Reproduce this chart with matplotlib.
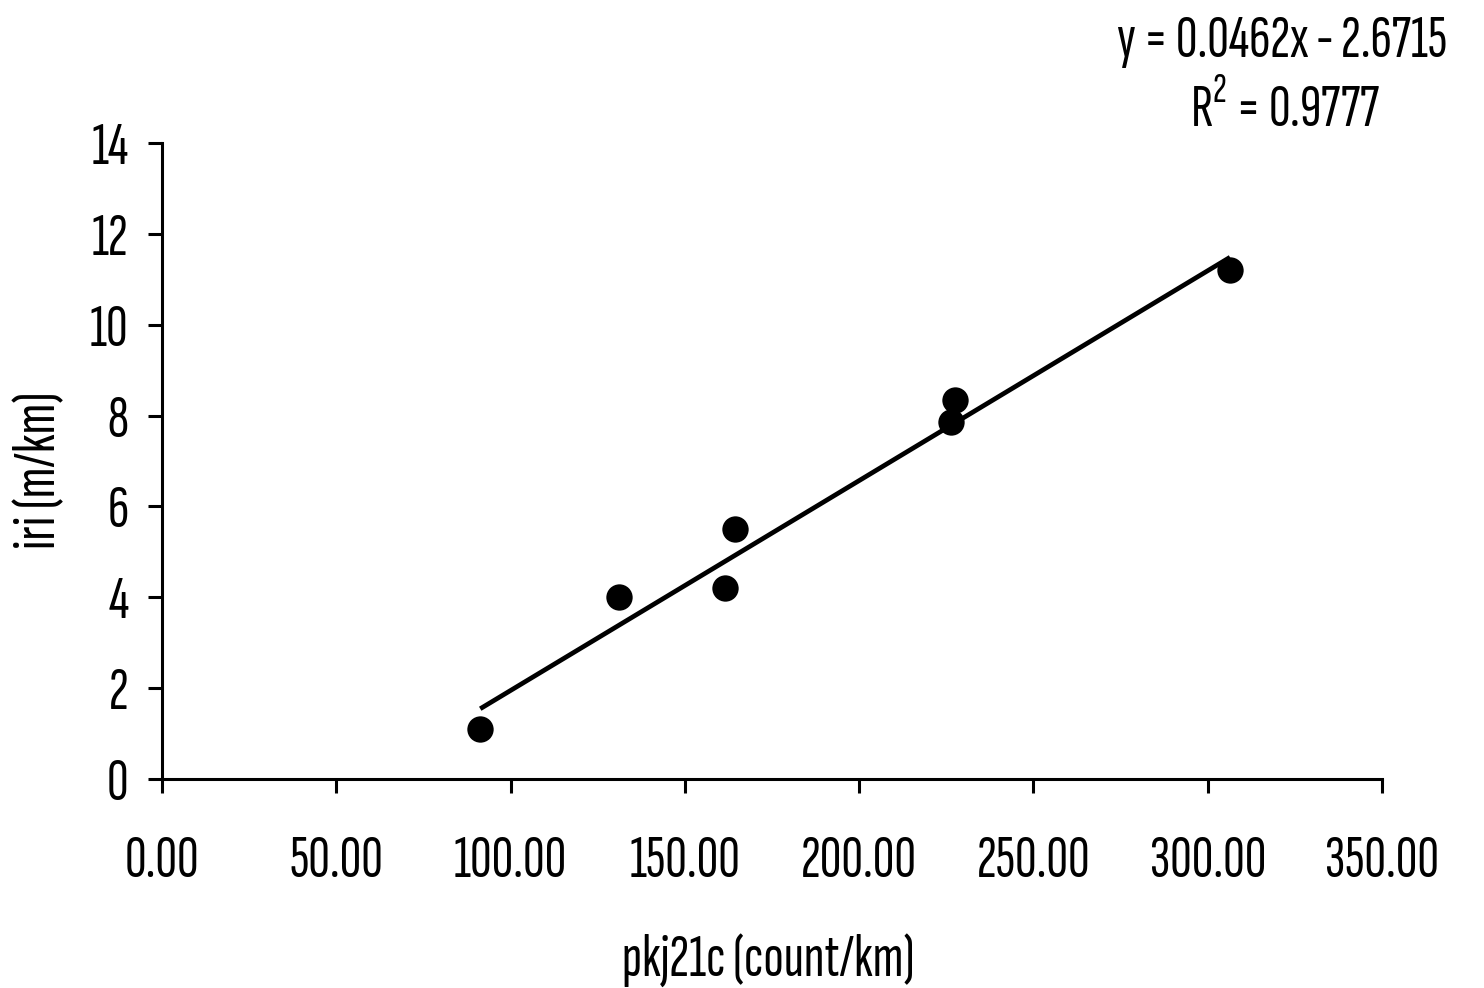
import matplotlib
matplotlib.use("Agg")
from matplotlib import pyplot as plt
import numpy as np

# data
pkj21c = [91.3, 131.0, 161.5, 164.5, 226.3, 227.5, 306.4]
iri = [1.1, 4.0, 4.2, 5.5, 7.85, 8.35, 11.2]
slope = 0.0462
intercept = -2.6715
r2 = 0.9777
x_ticks = [0, 50, 100, 150, 200, 250, 300, 350]
y_ticks = [0, 2, 4, 6, 8, 10, 12, 14]

FONT = 'Sofia Sans Extra Condensed'
plt.rcParams['font.family'] = [FONT, 'DejaVu Sans']
plt.rcParams['mathtext.fontset'] = 'custom'
plt.rcParams['mathtext.rm'] = FONT
FS = 43

W, H = 1484, 988
fig = plt.figure(figsize=(W / 100, H / 100), dpi=100)
ax = fig.add_axes([162 / W, 1 - 779 / H, 1220 / W, 636 / H])

ax.scatter(pkj21c, iri, s=360, color='black', zorder=3, linewidths=0)
xs = np.array([min(pkj21c), max(pkj21c)])
ax.plot(xs, slope * xs + intercept, color='black', lw=3.4, solid_capstyle='butt')

ax.set_xlim(0, 350)
ax.set_ylim(0, 14)
ax.set_xticks(x_ticks)
ax.set_xticklabels([f"{v:.2f}" for v in x_ticks])
ax.set_yticks(y_ticks)
for s in ['top', 'right']:
    ax.spines[s].set_visible(False)
for s in ['left', 'bottom']:
    ax.spines[s].set_linewidth(2.2)
ax.tick_params(direction='out', length=10, width=2.2, labelsize=FS, colors='black')
ax.tick_params(axis='x', pad=30)
ax.tick_params(axis='y', pad=14)

ax.set_xlabel("pkj21c (count/km)", fontsize=FS, va='center')
ax.xaxis.set_label_coords(0.497, -0.285)
ax.set_ylabel("iri (m/km)", fontsize=FS, va='center')
ax.yaxis.set_label_coords(-0.1, 0.486)

fig.text(1282 / W, 1 - 42 / H, f"y = {slope:.4f}x - {abs(intercept):.4f}",
         fontsize=FS, ha='center', va='center')
fig.text(1285 / W, 1 - 110 / H, f"R$^2$ = {r2:.4f}",
         fontsize=FS, ha='center', va='center')

fig.savefig("out.png", dpi=100)
